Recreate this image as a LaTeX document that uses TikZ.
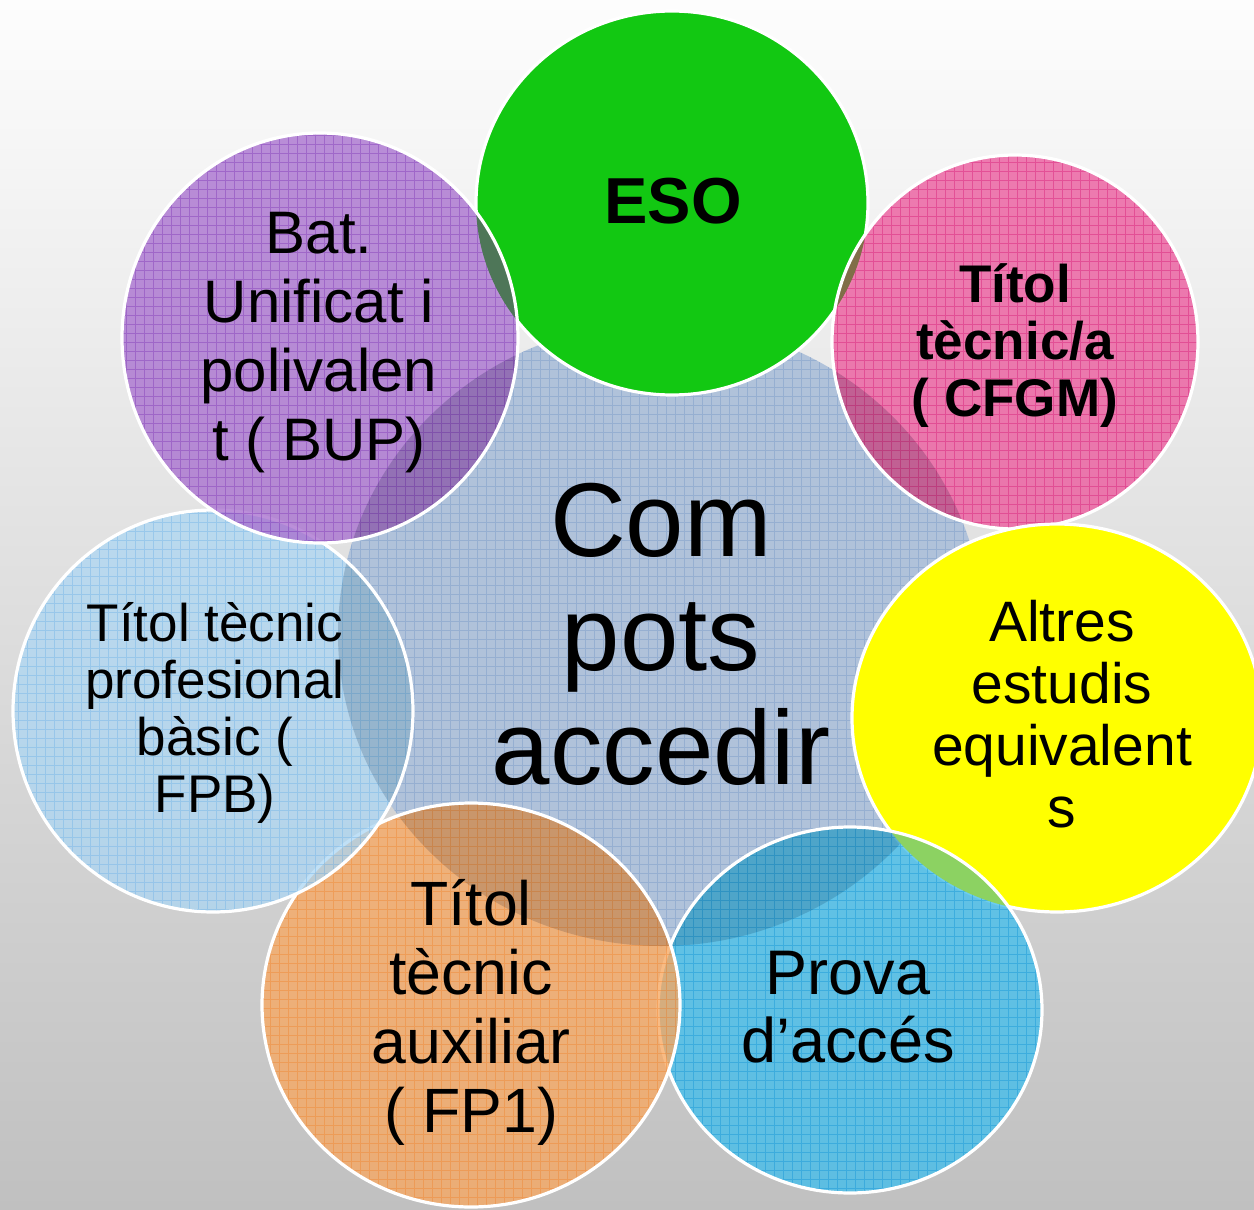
\documentclass[tikz,border=0pt]{standalone}
\usepackage{fontspec}
\setmainfont{Liberation Sans}
\definecolor{bgtop}{RGB}{253,253,253}
\definecolor{bgmid}{RGB}{238,238,238}
\definecolor{bgbot}{RGB}{192,192,192}
\definecolor{cenfill}{RGB}{176,194,218}
\definecolor{cengrid}{RGB}{120,152,200}
\definecolor{esofill}{RGB}{18,200,18}
\definecolor{pinkfill}{RGB}{236,88,156}
\definecolor{pinkgrid}{RGB}{215,30,120}
\definecolor{yelfill}{RGB}{255,255,0}
\definecolor{provafill}{RGB}{66,190,236}
\definecolor{provagrid}{RGB}{20,150,215}
\definecolor{orfill}{RGB}{247,168,98}
\definecolor{orgrid}{RGB}{240,135,50}
\definecolor{lbfill}{RGB}{172,214,243}
\definecolor{lbgrid}{RGB}{115,180,232}
\definecolor{pufill}{RGB}{168,112,207}
\definecolor{pugrid}{RGB}{130,60,185}
\definecolor{pueso}{RGB}{78,118,88}
\definecolor{pinkeso}{RGB}{128,110,72}
\definecolor{provayel}{RGB}{140,210,98}
\newcommand\myblob[7]{%
  \begin{scope}
    \fill[#5, fill opacity=#7] (#1,#2) ellipse [x radius=#3pt, y radius=#4pt];
    \clip (#1,#2) ellipse [x radius=#3pt, y radius=#4pt];
    \draw[#6, step=4.5pt, line width=0.3pt, opacity=0.45] (#1-2*#3-10,#2-2*#4-10) grid (#1+2*#3+10,#2+2*#4+10);
  \end{scope}}
\newcommand\mydarken[4]{%
  \begin{scope}
    \clip (#1,#2) ellipse [x radius=#3pt, y radius=#4pt];
    \fill[black, fill opacity=0.13] (661,634) ellipse [x radius=161.5pt, y radius=156pt];
  \end{scope}}
\begin{document}
\begin{tikzpicture}[x=0.5pt,y=-0.5pt,
  outl/.style={draw=white, line width=1.6pt},
  lbl/.style={align=center, inner sep=0pt, text=black}]
\useasboundingbox (0,0) rectangle (1254,1210);
\shade[top color=bgtop, middle color=bgmid, bottom color=bgbot] (0,0) rectangle (1254,1210);

% central
\myblob{661}{634}{161.5}{156}{cenfill}{cengrid}{1}

% ESO
\fill[esofill] (672,203) ellipse [x radius=98pt, y radius=96pt];
\draw[outl] (672,203) ellipse [x radius=98pt, y radius=96pt];

% pink
\myblob{1015}{342}{91.5}{93.5}{pinkfill}{pinkgrid}{0.78}
\mydarken{1015}{342}{91.5}{93.5}
\begin{scope}
  \clip (672,203) ellipse [x radius=98pt, y radius=96pt];
  \fill[pinkeso] (1015,342) ellipse [x radius=91.5pt, y radius=93.5pt];
\end{scope}
\draw[outl] (1015,342) ellipse [x radius=91.5pt, y radius=93.5pt];

% yellow
\fill[yelfill] (1057,718) ellipse [x radius=102.5pt, y radius=97pt];
\draw[outl] (1057,718) ellipse [x radius=102.5pt, y radius=97pt];

% prova
\myblob{850}{1010}{96}{91.5}{provafill}{provagrid}{0.78}
\mydarken{850}{1010}{96}{91.5}
\begin{scope}
  \clip (1057,718) ellipse [x radius=102.5pt, y radius=97pt];
  \fill[provayel] (850,1010) ellipse [x radius=96pt, y radius=91.5pt];
\end{scope}
\draw[outl] (850,1010) ellipse [x radius=96pt, y radius=91.5pt];

% orange
\myblob{471}{1005}{104.5}{101}{orfill}{orgrid}{0.78}
\mydarken{471}{1005}{104.5}{101}
\draw[outl] (471,1005) ellipse [x radius=104.5pt, y radius=101pt];

% light blue
\myblob{213}{711}{100}{100.5}{lbfill}{lbgrid}{0.75}
\mydarken{213}{711}{100}{100.5}
\draw[outl] (213,711) ellipse [x radius=100pt, y radius=100.5pt];

% purple
\myblob{320}{338}{99}{102.5}{pufill}{pugrid}{0.78}
\mydarken{320}{338}{99}{102.5}
\begin{scope}
  \clip (672,203) ellipse [x radius=98pt, y radius=96pt];
  \fill[pueso] (320,338) ellipse [x radius=99pt, y radius=102.5pt];
\end{scope}
\draw[outl] (320,338) ellipse [x radius=99pt, y radius=102.5pt];

% texts
\node[lbl, font=\fontsize{52.5}{57}\selectfont] (tcen) at (661,648)
  {\strut Com\\\strut pots\\\strut accedir};
\node[lbl, anchor=base, font=\fontsize{32.5}{36}\selectfont\bfseries] (teso) at (673,223) {ESO};
\node[lbl, font=\fontsize{26.5}{28.5}\selectfont\bfseries] (tpink) at (1015,348)
  {\strut Títol\\\strut tècnic/a\\\strut ( CFGM)};
\node[lbl, font=\fontsize{28.5}{31}\selectfont] (tyel) at (1062,722)
  {\strut Altres\\\strut estudis\\\strut equivalent\\\strut s};
\node[lbl, font=\fontsize{31.5}{34}\selectfont] (tprova) at (848,1015)
  {\strut Prova\\\strut d’accés};
\node[lbl, font=\fontsize{31.3}{34.5}\selectfont] (tor) at (471,1015)
  {\strut Títol\\\strut tècnic\\\strut auxiliar\\\strut ( FP1)};
\node[lbl, font=\fontsize{26.5}{28.5}\selectfont] (tlb) at (215,716)
  {\strut Títol tècnic\\\strut profesional\\\strut bàsic (\\\strut FPB)};
\node[lbl, font=\fontsize{30}{34.5}\selectfont] (tpu) at (319,343)
  {\strut Bat.\\\strut Unificat i\\\strut polivalen\\\strut t ( BUP)};
\end{tikzpicture}
\end{document}
